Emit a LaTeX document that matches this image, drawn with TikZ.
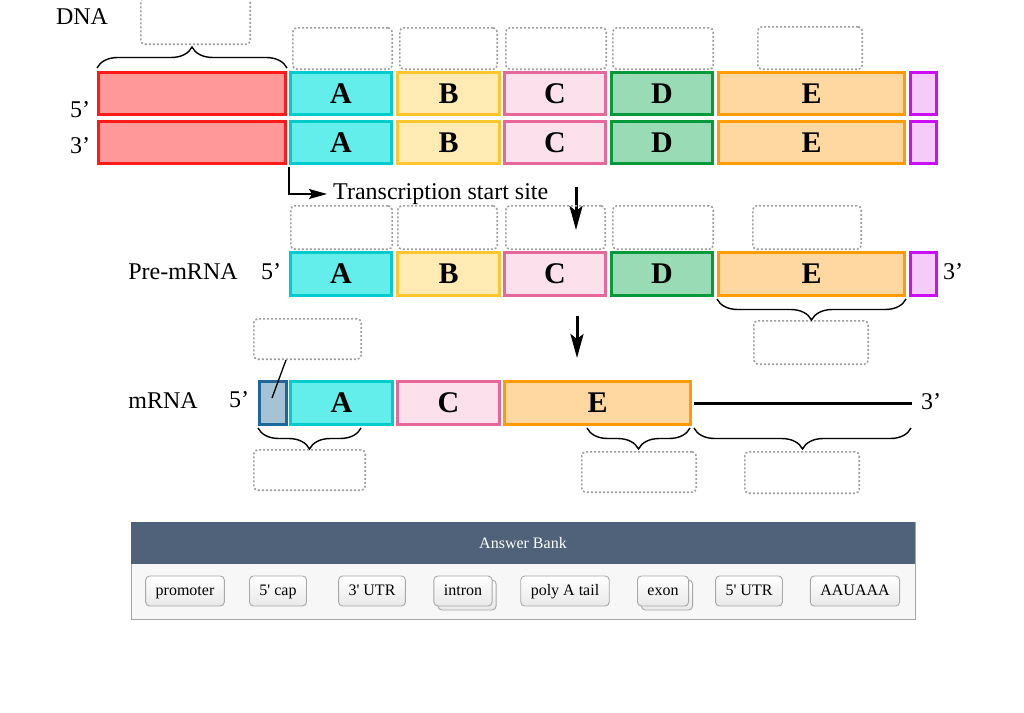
\documentclass[tikz,border=0pt]{standalone}
\usepackage{fontspec}
\setmainfont{Liberation Serif}
\newfontfamily\btnfont[Ligatures=TeXOff]{Liberation Serif}
\usetikzlibrary{arrows.meta,decorations.pathreplacing,calc}

\definecolor{redF}{HTML}{FF9999}\definecolor{redD}{HTML}{FF1A1A}
\definecolor{cyF}{HTML}{63EDEB}\definecolor{cyD}{HTML}{00CCCC}
\definecolor{yeF}{HTML}{FFEBB3}\definecolor{yeD}{HTML}{FFC52E}
\definecolor{piF}{HTML}{FCE1EC}\definecolor{piD}{HTML}{E8679B}
\definecolor{grF}{HTML}{98DBB5}\definecolor{grD}{HTML}{05993A}
\definecolor{orF}{HTML}{FFD7A1}\definecolor{orD}{HTML}{FF9B05}
\definecolor{puF}{HTML}{F5CCF9}\definecolor{puD}{HTML}{CC0EF5}
\definecolor{caF}{HTML}{A6C3D5}\definecolor{caD}{HTML}{1E679A}
\definecolor{hdr}{HTML}{4F6279}
\definecolor{dashc}{HTML}{A0A0A0}
\definecolor{btnD}{HTML}{A8A8A8}
\definecolor{btnB}{HTML}{E9E9E9}
\definecolor{bankF}{HTML}{F7F7F7}
\definecolor{bankD}{HTML}{A5A5A5}

\tikzset{
  seg/.style={draw, line width=3pt, inner sep=0pt, font=\fontsize{30}{34}\selectfont\bfseries},
  blank/.style={draw=dashc, line width=1.6pt, dash pattern=on 2pt off 2pt, rounded corners=4pt, inner sep=0pt},
  lbl/.style={font=\fontsize{24}{28}\selectfont, inner sep=0pt},
  brc/.style={decorate, decoration={brace, amplitude=21pt}, line width=1.4pt},
  brcm/.style={decorate, decoration={brace, amplitude=21pt, mirror}, line width=1.4pt},
  btn/.style={draw=btnD, line width=0.9pt, rounded corners=4pt, top color=white, bottom color=btnB, minimum height=30pt, inner xsep=10pt, inner ysep=0pt, text height=12pt, text depth=4pt, font=\btnfont\fontsize{16}{19}\selectfont},
  bigarrow/.style={line width=3pt, -{Stealth[length=24pt,width=13pt,inset=5pt]}},
}

% name, x1, y1, x2, y2, fill, draw, label
\newcommand\segbox[8]{%
  \node[seg, fill=#6, draw=#7, minimum width={(#4-#2-3)*1pt}, minimum height={(#5-#3-3)*1pt}]
    (#1) at ({(#2+#4)/2},{(#3+#5)/2}) {#8};}
% name, x1, y1, x2, y2
\newcommand\blankbox[5]{%
  \node[blank, minimum width={(#4-#2-1.6)*1pt}, minimum height={(#5-#3-1.6)*1pt}]
    (#1) at ({(#2+#4)/2},{(#3+#5)/2}) {};}

\begin{document}
\begin{tikzpicture}[x=1pt,y=-1pt]
\useasboundingbox (0,0) rectangle (1024,712);

% ---------- DNA ----------
\node[lbl] (dnalbl) at (82,17) {DNA};
\node[lbl] (d5) at (80,110) {5’};
\node[lbl] (d3) at (80,146) {3’};

\segbox{dR1}{97}{71}{287}{116}{redF}{redD}{}
\segbox{dA1}{289}{71}{393}{116}{cyF}{cyD}{A}
\segbox{dB1}{396}{71}{501}{116}{yeF}{yeD}{B}
\segbox{dC1}{503}{71}{607}{116}{piF}{piD}{C}
\segbox{dD1}{610}{71}{714}{116}{grF}{grD}{D}
\segbox{dE1}{717}{71}{906}{116}{orF}{orD}{E}
\segbox{dP1}{909}{71}{938}{116}{puF}{puD}{}

\segbox{dR2}{97}{120}{287}{165}{redF}{redD}{}
\segbox{dA2}{289}{120}{393}{165}{cyF}{cyD}{A}
\segbox{dB2}{396}{120}{501}{165}{yeF}{yeD}{B}
\segbox{dC2}{503}{120}{607}{165}{piF}{piD}{C}
\segbox{dD2}{610}{120}{714}{165}{grF}{grD}{D}
\segbox{dE2}{717}{120}{906}{165}{orF}{orD}{E}
\segbox{dP2}{909}{120}{938}{165}{puF}{puD}{}

\blankbox{bTop}{140}{-3}{251}{45}
\blankbox{bdA}{292}{27}{393}{70}
\blankbox{bdB}{399}{27}{498}{70}
\blankbox{bdC}{505}{27}{607}{70}
\blankbox{bdD}{612}{27}{714}{70}
\blankbox{bdE}{757}{26}{863}{70}

\draw[brc] (97,68) -- (287,68);

% transcription start site
\node[lbl, anchor=west] (tss) at (333,194) {Transcription start site};
\draw[line width=1.3pt, -{Stealth[length=18pt,width=10pt,inset=3pt]}]
  ([yshift=-2pt]dA2.south west) |- ([xshift=-6pt]tss.west);

% arrow 1
\coordinate (a1s) at (576,187);
\coordinate (a1e) at (576,230);
\draw[bigarrow] (a1s) -- (a1e);

% ---------- Pre-mRNA ----------
\node[lbl] (prelbl) at (183,272) {Pre-mRNA};
\node[lbl] (p5) at (271,272) {5’};
\node[lbl] (p3) at (953,272) {3’};

\segbox{pA}{289}{251}{393}{297}{cyF}{cyD}{A}
\segbox{pB}{396}{251}{501}{297}{yeF}{yeD}{B}
\segbox{pC}{503}{251}{607}{297}{piF}{piD}{C}
\segbox{pD}{610}{251}{714}{297}{grF}{grD}{D}
\segbox{pE}{717}{251}{906}{297}{orF}{orD}{E}
\segbox{pP}{909}{251}{938}{297}{puF}{puD}{}

\blankbox{bpA}{290}{205}{393}{250}
\blankbox{bpB}{397}{205}{498}{250}
\blankbox{bpC}{505}{205}{606}{250}
\blankbox{bpD}{612}{205}{714}{250}
\blankbox{bpE}{752}{205}{862}{250}
\blankbox{bpEl}{753}{320}{869}{365}

\draw[brcm] (717,299) -- (906,299);

% arrow 2
\coordinate (a2s) at (577,316);
\coordinate (a2e) at (577,358);
\draw[bigarrow] (a2s) -- (a2e);

% ---------- mRNA ----------
\node[lbl] (mlbl) at (163,401) {mRNA};
\node[lbl] (m5) at (239,400) {5’};
\node[lbl] (m3) at (931,402) {3’};

\segbox{mCap}{258}{380}{288}{426}{caF}{caD}{}
\segbox{mA}{289}{380}{394}{426}{cyF}{cyD}{A}
\segbox{mC}{396}{380}{501}{426}{piF}{piD}{C}
\segbox{mE}{503}{380}{692}{426}{orF}{orD}{E}

\coordinate (tailend) at (912,403);
\draw[line width=3pt] ([xshift=2pt]mE.east) -- (tailend);

\blankbox{bmCap}{253}{318}{362}{360}
\coordinate (capdot) at (272,398);
\draw[line width=1.3pt] ([xshift=33pt]bmCap.south west) -- (capdot);

\draw[brcm] (258,428) -- (361,428);
\draw[brcm] (587,428) -- (690,428);
\draw[brcm] (694,428) -- (911,428);

\blankbox{bm1}{253}{449}{366}{491}
\blankbox{bm2}{581}{451}{697}{493}
\blankbox{bm3}{744}{451}{860}{494}

% ---------- Answer bank ----------
\draw[bankD, fill=bankF, line width=1pt] (131,522) rectangle (915,619);
\fill[hdr] (131,522) rectangle (915,564);
\node[font=\fontsize{16}{19}\selectfont, text=white, inner sep=0pt] (bankt) at (523,543) {Answer Bank};

\node[btn] (k1) at (185,591) {promoter};
\node[btn] (k2) at (278,591) {5' cap};
\node[btn] (k3) at (372,591) {3' UTR};
\node[btn] (k4s) at (467,595) {\phantom{intron}};
\node[btn] (k4) at (463,591) {intron};
\node[btn] (k5) at (565,591) {poly A tail};
\node[btn] (k6s) at (667,595) {\phantom{exon}};
\node[btn] (k6) at (663,591) {exon};
\node[btn] (k7) at (749,591) {5' UTR};
\node[btn] (k8) at (855,591) {AAUAAA};
\end{tikzpicture}
\end{document}
